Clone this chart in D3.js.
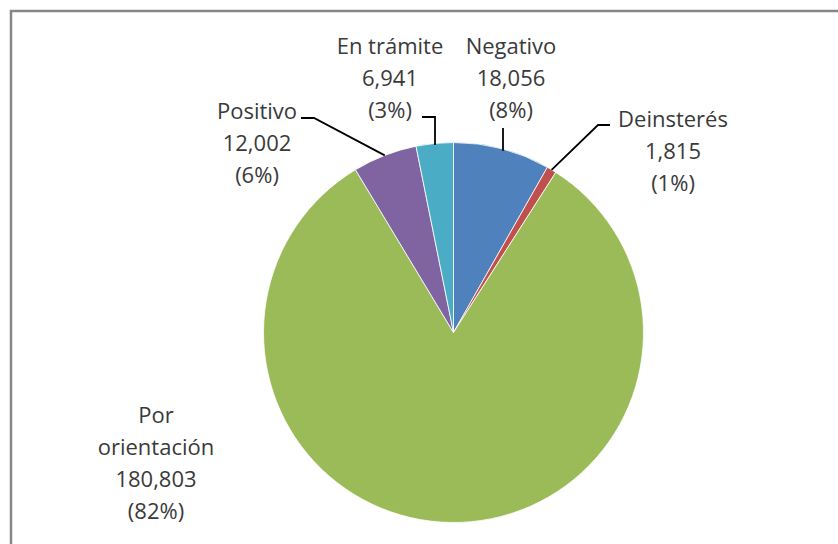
<!DOCTYPE html>
<html>
<head>
<meta charset="utf-8">
<script src="https://cdn.jsdelivr.net/npm/d3@7"></script>
<style>
  body { margin: 0; background: #fff; }
  svg { display: block; font-family: "Open Sans", "Liberation Sans", sans-serif; }
</style>
</head>
<body>
<div id="chart"></div>
<script>
// slices clockwise from 12 o'clock
var categories = ['Negativo', 'Deinsterés', 'Por orientación', 'Positivo', 'En trámite']
var values = [18056, 1815, 180803, 12002, 6941]
var percents = ['8%', '1%', '82%', '6%', '3%']
var colors = ['#4F81BD', '#C0504D', '#9BBB59', '#8064A2', '#4BACC6']

var width = 838, height = 544
var cx = 453.5, cy = 332.5, radius = 190
var lineH = 32

// label layout: text centre x, first baseline y, and leader elbow
var labelLayout = {
  'Negativo':        { x: 511, y: 54,  lines: ['Negativo'], leader: 'vertical', from: [503, 128] },
  'Deinsterés':      { x: 673, y: 127, lines: ['Deinsterés'], leader: 'elbow', from: [610, 125], elbow: [598, 125] },
  'Por orientación': { x: 156, y: 423, lines: ['Por', 'orientación'], leader: 'none' },
  'Positivo':        { x: 257, y: 119, lines: ['Positivo'], leader: 'elbow', from: [301, 118], elbow: [314, 118] },
  'En trámite':      { x: 390, y: 54,  lines: ['En trámite'], leader: 'elbow', from: [422, 117], elbow: [435, 117] }
}

var svg = d3.select('#chart').append('svg')
  .attr('width', width).attr('height', height)

// outer frame (runs past the right and bottom edges)
svg.append('rect')
  .attr('x', 11).attr('y', 11)
  .attr('width', 900).attr('height', 600)
  .attr('fill', 'none')
  .attr('stroke', '#878787')
  .attr('stroke-width', 2.5)

var data = categories.map(function(c, i) {
  return { name: c, value: values[i], pct: percents[i], color: colors[i] }
})

var pie = d3.pie().sort(null).value(function(d) { return d.value })
var arcs = pie(data)
var arc = d3.arc().innerRadius(0).outerRadius(radius)

var g = svg.append('g').attr('transform', 'translate(' + cx + ',' + cy + ')')

g.selectAll('path.slice')
  .data(arcs)
  .join('path')
  .attr('class', 'slice')
  .attr('d', arc)
  .attr('fill', function(d) { return d.data.color })
  .attr('stroke', '#fff')
  .attr('stroke-width', 0.8)

var fmt = d3.format(',')

// leader lines: end on the arc edge at a fraction inside each slice
function edgePoint(a, t) {
  var ang = a.startAngle + (a.endAngle - a.startAngle) * t
  return [cx + Math.sin(ang) * radius, cy - Math.cos(ang) * radius]
}
var leaderT = { 'Negativo': 0.5, 'Deinsterés': 0.5, 'Positivo': 0.5, 'En trámite': 0.6 }

arcs.forEach(function(a) {
  var L = labelLayout[a.data.name]
  if (L.leader === 'none') return
  var p = edgePoint(a, leaderT[a.data.name])
  var pts
  if (L.leader === 'vertical') {
    pts = [L.from, [L.from[0], p[1] + 2]]
  } else if (a.data.name === 'En trámite') {
    pts = [L.from, L.elbow, [L.elbow[0], p[1] + 2]]
  } else {
    pts = [L.from, L.elbow, p]
  }
  svg.append('path')
    .attr('d', d3.line()(pts))
    .attr('fill', 'none')
    .attr('stroke', '#000')
    .attr('stroke-width', 1.8)
})

// labels
arcs.forEach(function(a) {
  var L = labelLayout[a.data.name]
  var lines = L.lines.concat([fmt(a.data.value), '(' + a.data.pct + ')'])
  var t = svg.append('text')
    .attr('text-anchor', 'middle')
    .attr('fill', '#3a3a3a')
    .style('font-size', '22px')
  lines.forEach(function(s, i) {
    t.append('tspan').attr('x', L.x).attr('y', L.y + i * lineH).text(s)
  })
})
</script>
</body>
</html>
